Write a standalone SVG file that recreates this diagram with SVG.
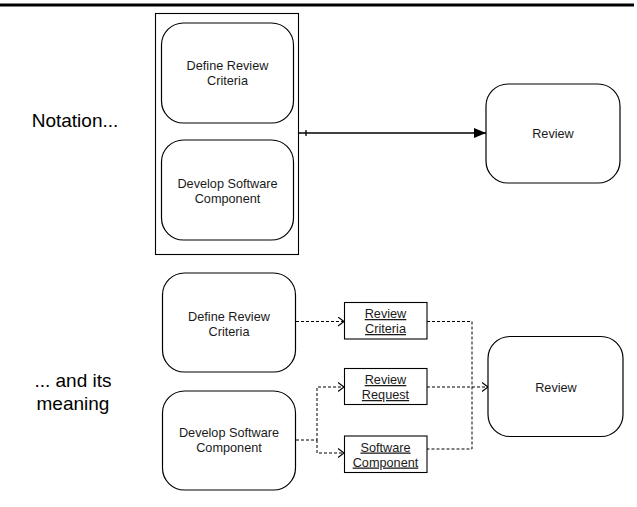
<svg xmlns="http://www.w3.org/2000/svg" width="637" height="507" viewBox="0 0 637 507">
<style>
.n{fill:#fff;stroke:#000;stroke-width:1.2}
.b{fill:#fff;stroke:#000;stroke-width:1.1}
.t{font-family:"Liberation Sans",Arial,sans-serif;font-size:12.7px;fill:#1a1a1a;text-anchor:middle}
.u{text-decoration:underline}
.big{font-family:"Liberation Sans",Arial,sans-serif;font-size:19px;fill:#000;text-anchor:middle}
.d{fill:none;stroke:#000;stroke-width:1;stroke-dasharray:3 2}
.s{fill:none;stroke:#000;stroke-width:1.3}
</style>
<defs>
<marker id="tri" viewBox="0 0 12 10" refX="12" refY="5" markerWidth="12" markerHeight="10" markerUnits="userSpaceOnUse" orient="auto">
<path d="M0,0 L12,5 L0,10 Z" fill="#000"/>
</marker>
<marker id="chev" viewBox="0 0 6 10" refX="6" refY="5" markerWidth="6" markerHeight="10" markerUnits="userSpaceOnUse" orient="auto">
<path d="M0,0.5 L6,5 L0,9.5" fill="none" stroke="#000" stroke-width="1.1"/>
</marker>
</defs>
<rect x="0" y="3.5" width="634" height="3" fill="#000"/>
<text class="big" x="75" y="127">Notation...</text>
<text class="big" x="73" y="387">... and its</text>
<text class="big" x="73" y="410">meaning</text>

<g id="connectors">
<line class="s" x1="298" y1="133" x2="486" y2="133" marker-end="url(#tri)"/>
<line class="s" x1="306" y1="130" x2="306" y2="136"/>
<path class="d" d="M296,321.5 H344" marker-end="url(#chev)"/>
<path class="d" d="M296,440 H317 V387 H344" marker-end="url(#chev)"/>
<path class="d" d="M317,440 V453 H344" marker-end="url(#chev)"/>
<path class="d" d="M427,321.5 H472 V449 H427"/>
<path class="d" d="M427,387 H488" marker-end="url(#chev)"/>
</g>

<g id="group-notation">
<rect x="155.5" y="13.5" width="143" height="241" fill="#fff" stroke="#000" stroke-width="1.1"/>
</g>
<g id="define-top">
<rect class="n" x="161.5" y="23" width="132" height="100" rx="22"/>
<text class="t" x="227.5" y="69.5">Define Review</text>
<text class="t" x="227.5" y="84.5">Criteria</text>
</g>
<g id="develop-top">
<rect class="n" x="161.5" y="140" width="132" height="100" rx="22"/>
<text class="t" x="227.5" y="187.5">Develop Software</text>
<text class="t" x="227.5" y="202.5">Component</text>
</g>
<g id="review-top">
<rect class="n" x="486" y="84" width="134" height="99" rx="22"/>
<text class="t" x="553" y="138">Review</text>
</g>

<g id="define-bottom">
<rect class="n" x="162.5" y="273" width="133" height="99" rx="22"/>
<text class="t" x="229" y="320.5">Define Review</text>
<text class="t" x="229" y="335.5">Criteria</text>
</g>
<g id="develop-bottom">
<rect class="n" x="162.5" y="391" width="133" height="99" rx="22"/>
<text class="t" x="229" y="437">Develop Software</text>
<text class="t" x="229" y="452">Component</text>
</g>
<g id="review-criteria">
<rect class="b" x="344.5" y="302.5" width="82.5" height="36.5"/>
<text class="t u" x="385.5" y="318">Review</text>
<text class="t u" x="385.5" y="333">Criteria</text>
</g>
<g id="review-request">
<rect class="b" x="344.5" y="368.5" width="82.5" height="36"/>
<text class="t u" x="385.5" y="384">Review</text>
<text class="t u" x="385.5" y="399">Request</text>
</g>
<g id="software-component">
<rect class="b" x="344.5" y="436" width="82.5" height="36.5"/>
<text class="t u" x="385.5" y="451.5">Software</text>
<text class="t u" x="385.5" y="466.5">Component</text>
</g>
<g id="review-bottom">
<rect class="n" x="488" y="336.5" width="135" height="100" rx="22"/>
<text class="t" x="556" y="391.5">Review</text>
</g>
</svg>
